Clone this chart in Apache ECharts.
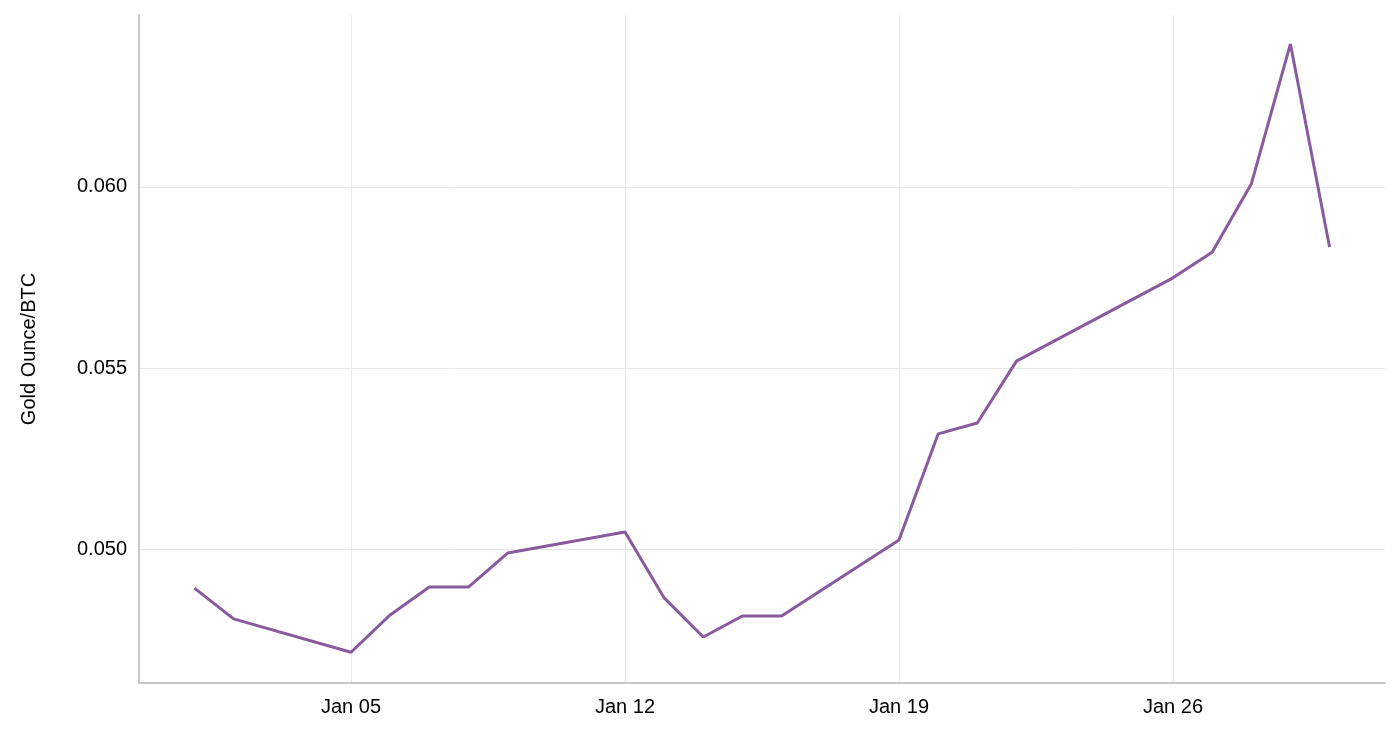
<!DOCTYPE html>
<html><head><meta charset="utf-8">
<script src="https://cdn.jsdelivr.net/npm/echarts@6/dist/echarts.min.js"></script>
<style>html,body{margin:0;padding:0;background:#fff}#c{width:1400px;height:740px}</style>
</head><body><div id="c"></div>
<script>
const dates = ['2015-01-01','2015-01-02','2015-01-05','2015-01-06','2015-01-07','2015-01-08','2015-01-09','2015-01-12','2015-01-13','2015-01-14','2015-01-15','2015-01-16','2015-01-19','2015-01-20','2015-01-21','2015-01-22','2015-01-26','2015-01-27','2015-01-28','2015-01-29','2015-01-30'];
const ratio = [0.04892,0.04807,0.04715,0.04818,0.04895,0.04895,0.04989,0.05047,0.04865,0.04757,0.04815,0.04815,0.05025,0.05318,0.05348,0.05519,0.05749,0.05820,0.06008,0.06395,0.05834];
const xTicks = ['2015-01-05','2015-01-12','2015-01-19','2015-01-26'];
const yTicks = [0.050,0.055,0.060];
const ts = d => Date.parse(d + 'T00:00:00Z');
const mon = ['Jan','Feb','Mar','Apr','May','Jun','Jul','Aug','Sep','Oct','Nov','Dec'];
const chart = echarts.init(document.getElementById('c'));
chart.setOption({
  animation:false,
  grid:{left:139,right:15,top:15,bottom:57},
  xAxis:{type:'value',min:ts('2014-12-30')+14*3600e3,max:ts('2015-01-31')+10*3600e3,
    axisLine:{lineStyle:{color:'#c8c8c8',width:2}},
    axisTick:{show:false,customValues:xTicks.map(ts)},
    splitLine:{show:true,lineStyle:{color:'#e8e8e8',width:1}},
    axisLabel:{customValues:xTicks.map(ts),color:'#000',fontSize:20,fontFamily:'Liberation Sans',margin:14,
      formatter:v=>{const d=new Date(v);return mon[d.getUTCMonth()]+' '+String(d.getUTCDate()).padStart(2,'0');}}},
  yAxis:{type:'value',min:0.0463,max:0.06475,name:'Gold Ounce/BTC',nameLocation:'middle',nameGap:100,
    nameTextStyle:{color:'#000',fontSize:20,fontFamily:'Liberation Sans'},
    axisLine:{show:true,lineStyle:{color:'#c8c8c8',width:2}},
    axisTick:{show:false,customValues:yTicks},
    splitLine:{show:true,lineStyle:{color:'#e8e8e8',width:1}},
    axisLabel:{customValues:yTicks,color:'#000',fontSize:20,fontFamily:'Liberation Sans',margin:12,formatter:v=>v.toFixed(3)}},
  series:[{type:'line',data:dates.map((d,i)=>[ts(d),ratio[i]]),showSymbol:false,
    lineStyle:{color:'#8a5a9e',width:3}}]
});
</script></body></html>
